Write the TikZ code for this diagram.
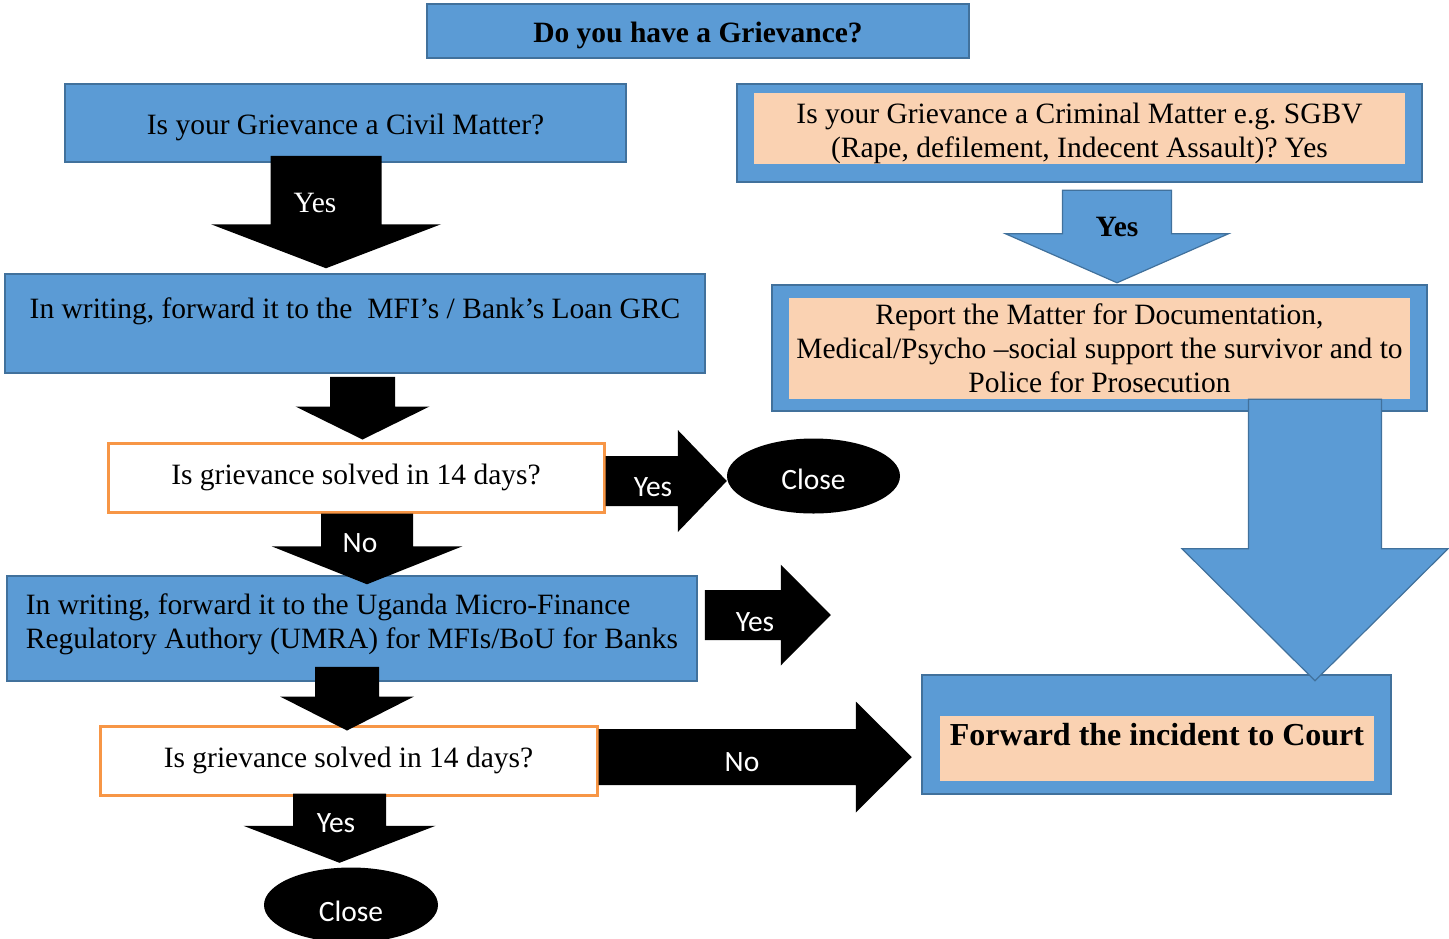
\documentclass[tikz,border=0pt]{standalone}
\usepackage{fontspec}
\setmainfont{Liberation Serif}
\newfontfamily\calibri{Carlito}
\usetikzlibrary{calc,shapes.geometric}
\definecolor{boxblue}{HTML}{5B9BD5}
\definecolor{boxline}{HTML}{41719C}
\definecolor{peach}{HTML}{FAD2B2}
\definecolor{amber}{HTML}{F79646}
\newcommand{\bodyfont}{\fontsize{29.5}{34}\selectfont\frenchspacing}
% block arrows: style, start, tip, shaft half width, head half width, head length
\newcommand{\downblock}[6]{%
  \path[#1] ($(#2)+(-#4,0)$) -- ($(#2)+(#4,0)$) -- ($(#3)+(#4,-#6)$)
    -- ($(#3)+(#5,-#6)$) -- (#3) -- ($(#3)+(-#5,-#6)$) -- ($(#3)+(-#4,-#6)$) -- cycle;}
\newcommand{\rightblock}[6]{%
  \path[#1] ($(#2)+(0,-#4)$) -- ($(#3)+(-#6,-#4)$) -- ($(#3)+(-#6,-#5)$) -- (#3)
    -- ($(#3)+(-#6,#5)$) -- ($(#3)+(-#6,#4)$) -- ($(#2)+(0,#4)$) -- cycle;}
\tikzset{
  bluebox/.style={draw=boxline,fill=boxblue,line width=1.5pt,inner sep=0pt},
  peachbox/.style={fill=peach,inner sep=0pt,align=center},
  askbox/.style={draw=amber,fill=white,line width=3pt,inner sep=0pt},
  endnode/.style={ellipse,fill=black,text=white,font=\bodyfont\calibri,inner sep=0pt},
  darkarrow/.style={fill=black},
  bluearrow/.style={fill=boxblue,draw=boxline,line width=1.2pt},
  arrowtext/.style={text=white,font=\bodyfont\calibri},
}
\begin{document}
\begin{tikzpicture}[x=1pt,y=-1pt,font=\bodyfont,line join=miter]
  \useasboundingbox (0,0) rectangle (1449,938);

  % Question at the top.
  \node[bluebox,line width=1.2pt,minimum width=542pt,minimum height=54pt,font=\bodyfont\bfseries]
    (top) at (698,31) {\rule{0pt}{30pt}Do you have a Grievance?};

  % Civil matter, left column.
  \node[bluebox,minimum width=561pt,minimum height=78pt] (civil) at (345.5,123)
    {\rule{0pt}{30pt}Is your Grievance a Civil Matter?};
  \node[bluebox,minimum width=700pt,minimum height=99pt] (mfi) at (355,323.5)
    {In writing, forward it to the~~MFI’s / Bank’s Loan GRC\rule[-31pt]{0pt}{31pt}};
  \node[askbox,minimum width=496pt,minimum height=69pt] (ask1) at (356,477.5)
    {Is grievance solved in 14 days?};
  \node[endnode,minimum width=173pt,minimum height=75pt] (close1) at (813.5,476)
    {\rule{0pt}{28pt}Close};
  \node[bluebox,align=left,minimum width=690pt,minimum height=105pt] (umra) at (352,628.5)
    {\rule{0pt}{22pt}In writing, forward it to the Uganda Micro-Finance\\
     Regulatory Authory (UMRA) for MFIs/BoU for Banks\rule[-17pt]{0pt}{17pt}};
  \node[askbox,minimum width=497pt,minimum height=69pt] (ask2) at (348.5,760.5)
    {Is grievance solved in 14 days?};
  \node[endnode,minimum width=174pt,minimum height=75pt] (close2) at (351,905)
    {\rule{0pt}{34pt}Close};

  % Criminal matter, right column.
  \node[bluebox,line width=2.5pt,minimum width=685pt,minimum height=98pt] (crim) at (1079.5,133) {};
  \node[peachbox,minimum width=651pt,minimum height=67pt] (crimq) at (1079.5,128.5)
    {\rule{0pt}{30pt}Is your Grievance a Criminal Matter e.g. SGBV\\(Rape, defilement, Indecent Assault)? Yes};
  \node[bluebox,line width=2.5pt,minimum width=655pt,minimum height=126pt] (report) at (1099.5,348) {};
  \node[peachbox,minimum width=621pt,minimum height=101pt] (reportq) at (1099.5,348.5)
    {Report the Matter for Documentation,\\Medical/Psycho –social support the survivor and to\\Police for Prosecution};
  \node[bluebox,line width=2.5pt,minimum width=469pt,minimum height=119pt] (court) at (1156.5,734.5) {};
  \node[peachbox,minimum width=434pt,minimum height=65pt,font=\fontsize{32}{36}\selectfont\bfseries]
    (courtq) at (1157,748.5) {Forward the incident to Court\rule[-29pt]{0pt}{29pt}};

  % Yes: civil matter to the loan GRC.
  \coordinate (y1a) at ($(civil.south)+(-19.5,-7)$);
  \coordinate (y1b) at ($(y1a |- mfi.north)+(0,-5)$);
  \downblock{darkarrow}{y1a}{y1b}{55.5}{115}{44}
  \node[text=white] (y1t) at (315,203) {Yes};

  % Loan GRC to the first check.
  \coordinate (d2a) at ($(mfi.south)+(7.5,3)$);
  \coordinate (d2b) at ($(d2a |- ask1.north)+(0,-2)$);
  \downblock{darkarrow}{d2a}{d2b}{32.5}{67}{33}

  % First check: yes, close.
  \coordinate (y3a) at ($(ask1.east)+(0,3.5)$);
  \coordinate (y3b) at (close1.west |- y3a);
  \rightblock{darkarrow}{y3a}{y3b}{25}{51}{49}
  \node[arrowtext] (y3t) at (653,487) {Yes};

  % First check: no, to UMRA / BoU.
  \coordinate (n4a) at ($(ask1.south)+(11,0)$);
  \coordinate (n4b) at ($(n4a |- umra.north)+(0,9)$);
  \downblock{darkarrow}{n4a}{n4b}{46}{95.5}{38}
  \node[arrowtext] (n4t) at (360,543) {No};

  % UMRA / BoU: yes.
  \coordinate (y5a) at ($(umra.east)+(7,-13.5)$);
  \coordinate (y5b) at ($(y5a)+(126,0)$);
  \rightblock{darkarrow}{y5a}{y5b}{25}{50.5}{50}
  \node[arrowtext] (y5t) at (755,622) {Yes};

  % UMRA / BoU to the second check.
  \coordinate (d6a) at ($(umra.south)+(-5,-15)$);
  \coordinate (d6b) at ($(d6a |- ask2.north)+(0,6)$);
  \downblock{darkarrow}{d6a}{d6b}{32}{67}{34}

  % Second check: yes, close.
  \coordinate (y7a) at ($(ask2.south)+(-9,-3)$);
  \coordinate (y7b) at ($(y7a |- close2.north)+(0,-4.5)$);
  \downblock{darkarrow}{y7a}{y7b}{46.5}{96}{37}
  \node[arrowtext] (y7t) at (336,823) {Yes};

  % Second check: no, to court.
  \coordinate (n8a) at ($(ask2.east)+(0,-3.5)$);
  \coordinate (n8b) at ($(court.west |- n8a)+(-9,0)$);
  \rightblock{darkarrow}{n8a}{n8b}{28}{55.5}{56}
  \node[arrowtext] (n8t) at (742,762) {No};

  % Criminal matter to the report.
  \coordinate (y9a) at ($(crim.south)+(37.5,7)$);
  \coordinate (y9b) at ($(y9a |- report.north)+(0,-1)$);
  \downblock{bluearrow}{y9a}{y9b}{54.5}{111.5}{49}
  \node[font=\bodyfont\bfseries] (y9t) at (1117,227) {Yes};

  % Report to court.
  \coordinate (d10a) at ($(report.south)+(215.5,-13)$);
  \coordinate (d10b) at ($(d10a |- court.north)+(0,7)$);
  \downblock{bluearrow}{d10a}{d10b}{66.5}{133}{132}
\end{tikzpicture}
\end{document}
